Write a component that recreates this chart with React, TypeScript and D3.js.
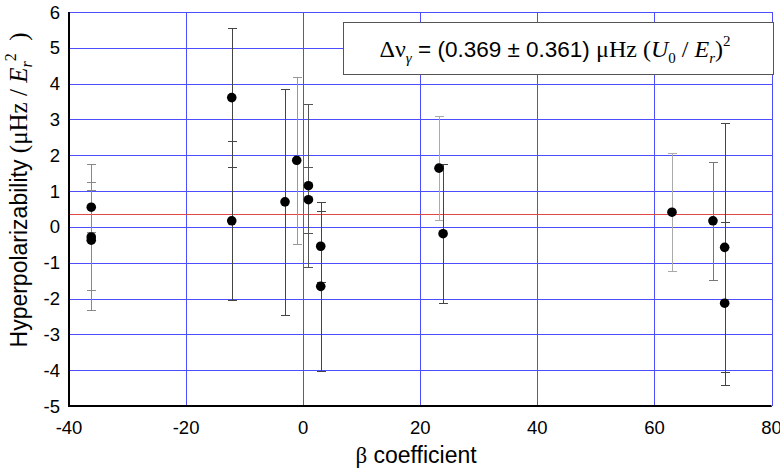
import React from "react";
import * as d3 from "d3";

// ---- data ----
const xTickValues = [-40, -20, 0, 20, 40, 60, 80];
const yTickValues = [-5, -4, -3, -2, -1, 0, 1, 2, 3, 4, 5, 6];
const betaCoefficients = [-36.2, -36.2, -36.2, -12.2, -12.2, -3.1, -1.1, 0.9, 0.9, 3.0, 3.0, 23.2, 23.9, 63.0, 70.0, 72.0, 72.0];
const hyperpolarizability = [0.55, -0.28, -0.37, 3.61, 0.17, 0.7, 1.86, 1.15, 0.76, -0.54, -1.66, 1.64, -0.19, 0.41, 0.17, -0.57, -2.13];
const hyperErrors = [0.7, 2.03, 1.4, 1.93, 2.22, 3.15, 2.33, 2.28, 0.92, 0.99, 2.36, 1.45, 1.94, 1.65, 1.65, 3.47, 2.27];
const fitValue = 0.369;
const fitError = 0.361;

// ---- styles ----
const BAR_SHADES = ["#888", "#888", "#888", "#444", "#444", "#444", "#999", "#555", "#555", "#444", "#444", "#aaa", "#444", "#aaa", "#777", "#444", "#444"];
const GRID = "#4d4dff";
const SANS = "'Liberation Sans', Arial, sans-serif";
const SERIF = "'Liberation Serif', 'Times New Roman', serif";

export default function App() {
  const W = 780;
  const H = 472;
  const x = d3.scaleLinear().domain([-40, 80]).range([69, 771.5]);
  const y = d3.scaleLinear().domain([-5, 6]).range([406, 12]);
  const px = (v: number) => Math.round(x(v)) + 0.5;
  const py = (v: number) => Math.round(y(v)) + 0.5;
  const capHalf = 4.5;

  return (
    <svg width={W} height={H} style={{ position: "absolute", left: 0, top: 0, background: "#fff" }}>
      {/* grid */}
      <g shapeRendering="crispEdges">
        {yTickValues.map((t) => (
          <line key={"gy" + t} x1={x(-40)} x2={x(80)} y1={py(t)} y2={py(t)} stroke={GRID} strokeWidth={1} />
        ))}
        {xTickValues.map((t) => (
          <line key={"gx" + t} x1={px(t)} x2={px(t)} y1={y(-5)} y2={y(6)} stroke={GRID} strokeWidth={1} />
        ))}
      </g>
      {/* fit line */}
      <line x1={x(-40)} x2={x(80)} y1={py(fitValue)} y2={py(fitValue)} stroke="#e04848" strokeWidth={1} shapeRendering="crispEdges" />

      {/* error bars */}
      <g shapeRendering="crispEdges">
        {betaCoefficients.map((b, i) => {
          const cx = px(b);
          const top = y(hyperpolarizability[i] + hyperErrors[i]);
          const bot = y(hyperpolarizability[i] - hyperErrors[i]);
          const c = BAR_SHADES[i];
          return (
            <g key={"e" + i} stroke={c} strokeWidth={1}>
              <line x1={cx} x2={cx} y1={top} y2={bot} />
              <line x1={cx - capHalf} x2={cx + capHalf} y1={Math.round(top) + 0.5} y2={Math.round(top) + 0.5} />
              <line x1={cx - capHalf} x2={cx + capHalf} y1={Math.round(bot) + 0.5} y2={Math.round(bot) + 0.5} />
            </g>
          );
        })}
      </g>
      {/* points */}
      {betaCoefficients.map((b, i) => (
        <circle key={"p" + i} cx={x(b)} cy={y(hyperpolarizability[i])} r={4.8} fill="#000" />
      ))}

      {/* axes */}
      <line x1={x(-40)} x2={x(-40)} y1={y(6)} y2={y(-5) + 1} stroke="#000" strokeWidth={2} />
      <line x1={x(-40) - 1} x2={x(80)} y1={y(-5)} y2={y(-5)} stroke="#000" strokeWidth={2} />

      {/* tick labels */}
      {yTickValues.map((t) => (
        <text key={"ty" + t} x={60} y={y(t) + 6.5} textAnchor="end" fontFamily={SANS} fontSize={18.5} fill="#000">
          {t}
        </text>
      ))}
      {xTickValues.map((t) => (
        <text key={"tx" + t} x={x(t)} y={434} textAnchor="middle" fontFamily={SANS} fontSize={18.5} fill="#000">
          {t}
        </text>
      ))}

      {/* axis titles */}
      <text x={416} y={463} textAnchor="middle" fontSize={23} fill="#000">
        <tspan fontFamily={SERIF}>β</tspan>
        <tspan fontFamily={SANS}> coefficient</tspan>
      </text>
      <text transform="translate(27,190) rotate(-90)" textAnchor="middle" fontSize={23} fill="#000">
        <tspan fontFamily={SANS}>Hyperpolarizability </tspan>
        <tspan fontFamily={SERIF} fontSize={25}>(μHz / </tspan>
        <tspan fontFamily={SERIF} fontSize={25} fontStyle="italic">E</tspan>
        <tspan fontFamily={SERIF} fontStyle="italic" fontSize={16} dy={5}>r</tspan>
        <tspan fontFamily={SERIF} fontSize={16} dy={-16}>2</tspan>
        <tspan fontFamily={SERIF} fontSize={25} dy={11}>{"\u00a0\u00a0)"}</tspan>
      </text>

      {/* legend box */}
      <rect x={343.5} y={22.5} width={430} height={52} fill="#fff" stroke="#555" strokeWidth={1} />
      <text x={555} y={57} textAnchor="middle" fontSize={22.5} fill="#000">
        <tspan fontFamily={SERIF} fontSize={24}>Δν</tspan>
        <tspan fontFamily={SERIF} fontStyle="italic" fontSize={15} dy={6}>γ</tspan>
        <tspan fontFamily={SANS} dy={-6}>{` = (${fitValue} ± ${fitError}) `}</tspan>
        <tspan fontFamily={SERIF} fontSize={24}>μHz (</tspan>
        <tspan fontFamily={SERIF} fontSize={24} fontStyle="italic">U</tspan>
        <tspan fontFamily={SERIF} fontSize={15} dy={6}>0</tspan>
        <tspan fontFamily={SERIF} fontSize={24} dy={-6}> / </tspan>
        <tspan fontFamily={SERIF} fontSize={24} fontStyle="italic">E</tspan>
        <tspan fontFamily={SERIF} fontStyle="italic" fontSize={15} dy={6}>r</tspan>
        <tspan fontFamily={SERIF} fontSize={24} dy={-6}>)</tspan>
        <tspan fontFamily={SERIF} fontSize={15} dy={-11}>2</tspan>
      </text>
    </svg>
  );
}
